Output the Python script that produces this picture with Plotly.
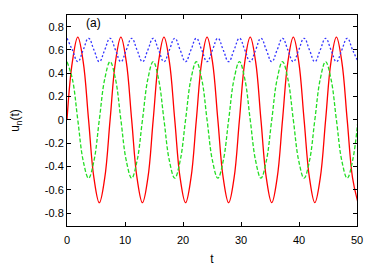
import plotly.graph_objects as go

t = [0.00, 0.93, 1.86, 2.79, 3.72, 4.65, 5.57, 6.50, 7.43, 8.36,
     9.29, 10.22, 11.15, 12.08, 13.01, 13.94, 14.86, 15.79, 16.72, 17.65,
     18.58, 19.51, 20.44, 21.37, 22.30, 23.23, 24.15, 25.08, 26.01, 26.94,
     27.87, 28.80, 29.73, 30.66, 31.59, 32.52, 33.44, 34.37, 35.30, 36.23,
     37.16, 38.09, 39.02, 39.95, 40.88, 41.81, 42.73, 43.66, 44.59, 45.52,
     46.45, 47.38, 48.31, 49.24, 50.17]

u_red = [0.0, 0.5, 0.71, 0.5, 0.0, -0.5, -0.71, -0.5,
         0.0, 0.5, 0.71, 0.5, 0.0, -0.5, -0.71, -0.5,
         0.0, 0.5, 0.71, 0.5, 0.0, -0.5, -0.71, -0.5,
         0.0, 0.5, 0.71, 0.5, 0.0, -0.5, -0.71, -0.5,
         0.0, 0.5, 0.71, 0.5, 0.0, -0.5, -0.71, -0.5,
         0.0, 0.5, 0.71, 0.5, 0.0, -0.5, -0.71, -0.5,
         0.0, 0.5, 0.71, 0.5, 0.0, -0.5, -0.71]

u_green = [0.5, 0.35, 0.0, -0.35, -0.5, -0.35, 0.0, 0.35,
           0.5, 0.35, 0.0, -0.35, -0.5, -0.35, 0.0, 0.35,
           0.5, 0.35, 0.0, -0.35, -0.5, -0.35, 0.0, 0.35,
           0.5, 0.35, 0.0, -0.35, -0.5, -0.35, 0.0, 0.35,
           0.5, 0.35, 0.0, -0.35, -0.5, -0.35, 0.0, 0.35,
           0.5, 0.35, 0.0, -0.35, -0.5, -0.35, 0.0, 0.35,
           0.5, 0.35, 0.0, -0.35, -0.5, -0.35, 0.0]

u_blue = [0.7, 0.6, 0.5, 0.6, 0.7, 0.6, 0.5, 0.6,
          0.7, 0.6, 0.5, 0.6, 0.7, 0.6, 0.5, 0.6,
          0.7, 0.6, 0.5, 0.6, 0.7, 0.6, 0.5, 0.6,
          0.7, 0.6, 0.5, 0.6, 0.7, 0.6, 0.5, 0.6,
          0.7, 0.6, 0.5, 0.6, 0.7, 0.6, 0.5, 0.6,
          0.7, 0.6, 0.5, 0.6, 0.7, 0.6, 0.5, 0.6,
          0.7, 0.6, 0.5, 0.6, 0.7, 0.6, 0.5]

x_ticks = [0, 10, 20, 30, 40, 50]
y_ticks = [-0.8, -0.6, -0.4, -0.2, 0, 0.2, 0.4, 0.6, 0.8]
y_labels = ["-0.8", "-0.6", "-0.4", "-0.2", "0", "0.2", "0.4", "0.6", "0.8"]

FONT = "Liberation Sans, Arial, sans-serif"

fig = go.Figure()
fig.add_trace(go.Scatter(x=t, y=u_red, mode="lines",
                         line=dict(color="#ff0000", width=1.3, shape="spline", smoothing=1.1)))
fig.add_trace(go.Scatter(x=t, y=u_green, mode="lines",
                         line=dict(color="#22dd22", width=1.3, dash="4px,2px", shape="spline", smoothing=1.1)))
fig.add_trace(go.Scatter(x=t, y=u_blue, mode="lines",
                         line=dict(color="#3333ff", width=1.3, dash="2px,2px", shape="spline", smoothing=1.3)))

axis_common = dict(showline=True, linecolor="black", linewidth=1, mirror="ticks",
                   ticks="inside", ticklen=4, tickcolor="black", showgrid=False,
                   zeroline=False, automargin=False,
                   tickfont=dict(family=FONT, size=11, color="black"))

fig.update_xaxes(range=[0, 50], tickvals=x_ticks, ticklabelstandoff=4,
                 title=dict(text="t", standoff=10,
                            font=dict(family=FONT, size=12, color="black")), **axis_common)
fig.update_yaxes(range=[-0.91, 0.9], tickvals=y_ticks, ticktext=y_labels,
                 title=dict(text="u<sub>n</sub>(t)", standoff=22,
                            font=dict(family=FONT, size=12, color="black")),
                 **axis_common)

fig.add_annotation(x=4.5, y=0.83, text="(a)", showarrow=False, xref="x", yref="y",
                   font=dict(family=FONT, size=12, color="black"))

fig.update_layout(width=380, height=266, showlegend=False,
                  margin=dict(l=67, r=23, t=15, b=40),
                  plot_bgcolor="white", paper_bgcolor="white")

fig.write_html("out.html", config={"displayModeBar": False},
               post_script="document.body.style.margin='0px';document.body.style.overflow='hidden';")
